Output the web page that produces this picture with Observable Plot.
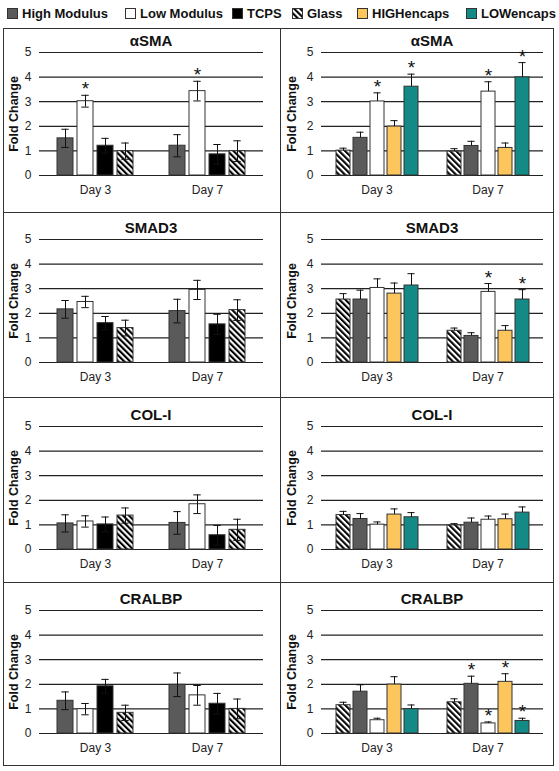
<!DOCTYPE html>
<html>
<head>
<meta charset="utf-8">
<script src="https://cdn.jsdelivr.net/npm/d3@7"></script>
<script src="https://cdn.jsdelivr.net/npm/@observablehq/plot@0.6"></script>
<style>
  html, body { margin: 0; padding: 0; background: #fff; }
  body { width: 559px; height: 771px; position: relative; overflow: hidden;
         font-family: "Liberation Sans", Arial, sans-serif; }
  .legend-item { position: absolute; top: 6px; display: flex; align-items: center;
                 font-size: 13px; font-weight: bold; color: #111; white-space: nowrap; }
  .legend-item svg { margin-right: 4px; }
  .panel { position: absolute; box-sizing: border-box; border: 1px solid #333; }
  .panel svg { position: absolute; left: 0; top: 0; }
  .ptitle { position: absolute; text-align: center; font-size: 15px; font-weight: bold;
            color: #111; line-height: 15px; }
</style>
</head>
<body>
<svg width="0" height="0" style="position:absolute">
  <defs>
    <pattern id="hatch" patternUnits="userSpaceOnUse" width="4.2" height="4.2" patternTransform="rotate(-45)">
      <rect width="4.2" height="4.2" fill="white"></rect>
      <rect width="2.1" height="4.2" fill="black"></rect>
    </pattern>
  </defs>
</svg>
<div id="root"></div>
<script>
// ---------------- DATA ----------------
const days = ["Day 3", "Day 7"];
const genes = ["αSMA", "SMAD3", "COL-I", "CRALBP"];
const yTicks = [0, 1, 2, 3, 4, 5];

const allSeries = ["High Modulus", "Low Modulus", "TCPS", "Glass", "HIGHencaps", "LOWencaps"];
const seriesFills = ["#5a5a5a", "#ffffff", "#000000", "url(#hatch)", "#fcc65c", "#138a85"];

// left column: order per day = High Modulus, Low Modulus, TCPS, Glass
const leftSeries = ["High Modulus", "Low Modulus", "TCPS", "Glass"];
// each row: Day 3 (4 values), then Day 7 (4 values)
const leftMeans = [
  [1.51, 3.02, 1.21, 0.99,   1.21, 3.43, 0.86, 0.99],
  [2.16, 2.46, 1.60, 1.40,   2.09, 2.95, 1.55, 2.13],
  [1.06, 1.14, 1.02, 1.38,   1.08, 1.84, 0.58, 0.80],
  [1.33, 0.99, 1.92, 0.84,   1.98, 1.55, 1.21, 1.00]
];
const leftErrors = [
  [0.37, 0.24, 0.30, 0.33,   0.45, 0.40, 0.40, 0.42],
  [0.36, 0.23, 0.27, 0.32,   0.48, 0.39, 0.41, 0.42],
  [0.35, 0.23, 0.30, 0.31,   0.46, 0.38, 0.40, 0.43],
  [0.36, 0.23, 0.28, 0.31,   0.48, 0.40, 0.42, 0.40]
];
const leftStars = [
  [0, 1, 0, 0,   0, 1, 0, 0],
  [0, 0, 0, 0,   0, 0, 0, 0],
  [0, 0, 0, 0,   0, 0, 0, 0],
  [0, 0, 0, 0,   0, 0, 0, 0]
];

// right column: order per day = Glass, High Modulus, Low Modulus, HIGHencaps, LOWencaps
const rightSeries = ["Glass", "High Modulus", "Low Modulus", "HIGHencaps", "LOWencaps"];
const rightMeans = [
  [1.01, 1.53, 3.01, 1.99, 3.61,   0.97, 1.20, 3.41, 1.12, 3.99],
  [2.56, 2.56, 3.03, 2.80, 3.13,   1.29, 1.08, 2.87, 1.29, 2.56],
  [1.40, 1.24, 1.01, 1.42, 1.31,   0.98, 1.09, 1.21, 1.23, 1.50],
  [1.15, 1.70, 0.54, 1.99, 0.99,   1.27, 2.02, 0.41, 2.10, 0.51]
];
const rightErrors = [
  [0.10, 0.23, 0.35, 0.24, 0.51,   0.12, 0.19, 0.40, 0.20, 0.60],
  [0.24, 0.38, 0.37, 0.43, 0.48,   0.11, 0.13, 0.34, 0.21, 0.40],
  [0.15, 0.22, 0.11, 0.23, 0.19,   0.07, 0.19, 0.15, 0.21, 0.23],
  [0.12, 0.28, 0.08, 0.32, 0.17,   0.14, 0.31, 0.06, 0.33, 0.11]
];
const rightStars = [
  [0, 0, 1, 0, 1,   0, 0, 1, 0, 1],
  [0, 0, 0, 0, 0,   0, 0, 1, 0, 1],
  [0, 0, 0, 0, 0,   0, 0, 0, 0, 0],
  [0, 0, 0, 0, 0,   0, 1, 1, 1, 1]
];

// ---------------- LAYOUT ----------------
const FONT = '"Liberation Sans", Arial, sans-serif';
const colLeft = [3, 280];
const colWidth = [278, 274];
const rowTop = [28, 212, 397, 582];
const rowHeight = [185, 186, 186, 184];
const rowMarginTop = [23, 26, 28, 27];
const frameH = 123;
const colMarginLeft = [35, 40];
const colMarginRight = [17, 10];
const colLabelOffset = [30, 34];
const legendX = [7, 125, 232, 292, 357, 466];

const root = document.getElementById("root");

// legend
allSeries.forEach((s, i) => {
  const item = document.createElement("div");
  item.className = "legend-item";
  item.style.left = legendX[i] + "px";
  const sw = d3.create("svg").attr("width", 11).attr("height", 11);
  sw.append("rect").attr("x", 0.5).attr("y", 0.5).attr("width", 10).attr("height", 10)
    .attr("fill", seriesFills[i]).attr("stroke", "#333").attr("stroke-width", 1);
  item.appendChild(sw.node());
  const t = document.createElement("span");
  t.textContent = s;
  item.appendChild(t);
  root.appendChild(item);
});

function makePanel(gi, ci) {
  const series = ci === 0 ? leftSeries : rightSeries;
  const means = (ci === 0 ? leftMeans : rightMeans)[gi];
  const errs = (ci === 0 ? leftErrors : rightErrors)[gi];
  const stars = (ci === 0 ? leftStars : rightStars)[gi];
  const both = ci === 0;
  const rows = [];
  days.forEach((day, di) => series.forEach((s, si) => {
    const k = di * series.length + si;
    rows.push({day, series: s, mean: means[k], err: errs[k], star: stars[k] === 1});
  }));

  const W = colWidth[ci] - 2, H = rowHeight[gi] - 2;
  const mT = rowMarginTop[gi];
  const mL = colMarginLeft[ci], mR = colMarginRight[ci];
  const mB = H - mT - frameH;
  const bw = ((W - mL - mR) / 2) / (series.length + 1.4) * 0.8;
  const capInset = Math.max(0, (bw - (ci === 0 ? 8 : 7)) / 2);

  const marks = [
    Plot.gridY(yTicks, {stroke: "#222", strokeOpacity: 1, strokeWidth: 1.2}),
    Plot.axisY(yTicks, {tickSize: 0, tickPadding: 8, label: "Fold Change", labelAnchor: "center",
                        labelArrow: "none", labelOffset: colLabelOffset[ci], fontSize: 12, fill: "#222"}),
    Plot.axisFx({anchor: "bottom", tickSize: 0, tickPadding: 10, label: null, fontSize: 12, fill: "#222"}),
    Plot.barY(rows, {fx: "day", x: "series", y: "mean", fill: "series", stroke: "#333", strokeWidth: 1}),
    Plot.ruleX(rows, {fx: "day", x: "series", y1: d => both ? d.mean - d.err : d.mean, y2: d => d.mean + d.err,
                      stroke: "#111", strokeWidth: 1}),
    Plot.tickY(rows, {fx: "day", x: "series", y: d => d.mean + d.err, stroke: "#111", strokeWidth: 1, inset: capInset})
  ];
  if (both) {
    marks.push(Plot.tickY(rows, {fx: "day", x: "series", y: d => d.mean - d.err, stroke: "#111", strokeWidth: 1, inset: capInset}));
  }
  marks.push(Plot.text(rows.filter(d => d.star), {fx: "day", x: "series", y: d => d.mean + d.err,
    text: () => "*", fontSize: 19, dy: -6, fill: "#111", lineAnchor: "middle"}));

  const chart = Plot.plot({
    width: W, height: H,
    marginTop: mT, marginBottom: mB, marginLeft: mL, marginRight: mR,
    style: {fontFamily: FONT, fontSize: "12px", background: "transparent", color: "#222"},
    fx: {domain: days, padding: 0},
    x: {domain: series, paddingInner: 0.2, paddingOuter: 0.8, axis: null},
    y: {domain: [0, 5], axis: null},
    color: {domain: allSeries, range: seriesFills},
    marks
  });

  // enforce axis text styling
  d3.select(chart).selectAll('g[aria-label="y-axis label"] text')
    .style("font-size", "12.5px").style("font-weight", "bold").style("fill", "#111");
  d3.select(chart).selectAll('g[aria-label="y-axis tick label"] text, g[aria-label="fx-axis tick label"] text')
    .style("font-size", "12px");

  const div = document.createElement("div");
  div.className = "panel";
  div.style.left = colLeft[ci] + "px";
  div.style.top = rowTop[gi] + "px";
  div.style.width = colWidth[ci] + "px";
  div.style.height = rowHeight[gi] + "px";
  div.appendChild(chart);
  const title = document.createElement("div");
  title.className = "ptitle";
  title.textContent = genes[gi];
  title.style.left = mL + "px";
  title.style.width = (W - mL - mR) + "px";
  title.style.top = (mT - 19) + "px";
  div.appendChild(title);
  root.appendChild(div);
}

genes.forEach((g, gi) => { makePanel(gi, 0); makePanel(gi, 1); });
</script>
</body>
</html>
